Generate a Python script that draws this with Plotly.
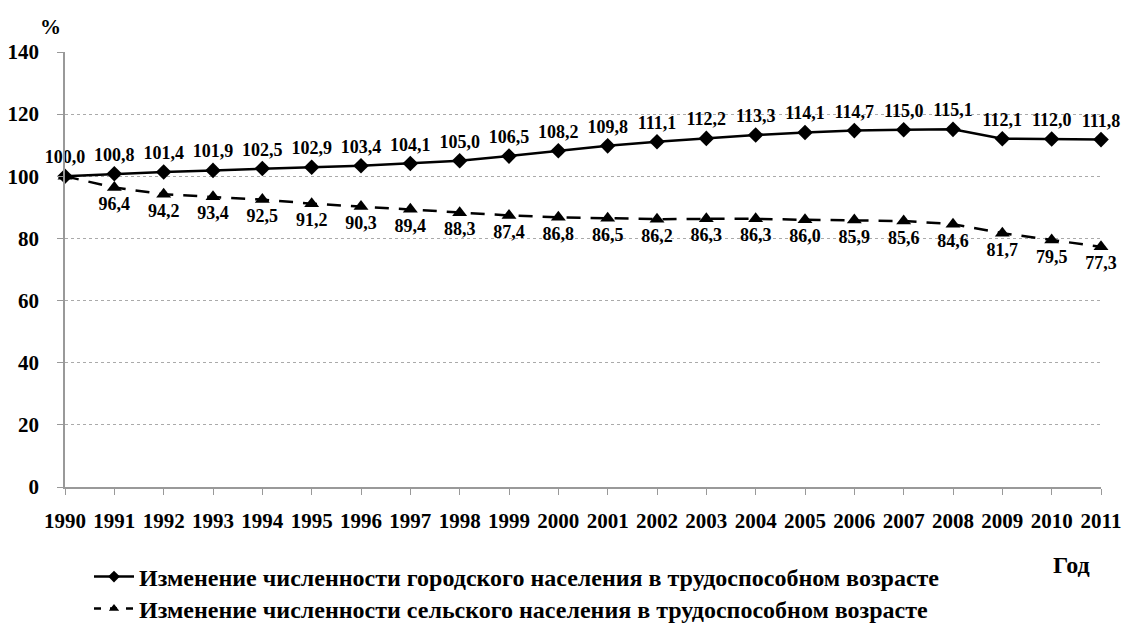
import plotly.graph_objects as go

years = list(range(1990, 2012))
urban = [100.0, 100.8, 101.4, 101.9, 102.5, 102.9, 103.4, 104.1, 105.0, 106.5, 108.2,
         109.8, 111.1, 112.2, 113.3, 114.1, 114.7, 115.0, 115.1, 112.1, 112.0, 111.8]
rural = [100.0, 96.4, 94.2, 93.4, 92.5, 91.2, 90.3, 89.4, 88.3, 87.4, 86.8,
         86.5, 86.2, 86.3, 86.3, 86.0, 85.9, 85.6, 84.6, 81.7, 79.5, 77.3]
yticks = [0, 20, 40, 60, 80, 100, 120, 140]

name_u = "Изменение численности городского населения в трудоспособном возрасте"
name_r = "Изменение численности сельского населения в трудоспособном возрасте"

def fmt(v):
    return f"{v:.1f}".replace(".", ",")

FONT = "'Liberation Serif', 'Times New Roman', 'DejaVu Serif', serif"
W, H = 1128, 624
L, R, T, B = 65, 27, 52, 137
PW, PH = W - L - R, H - T - B

def px(x):
    return (x - L) / PW

def py(y):
    return (H - B - y) / PH

urban_text = [fmt(v) for v in urban]
rural_text = [fmt(v) for v in rural]
rural_text[0] = ""

DASH = "14px,10px"
fig = go.Figure()
fig.add_trace(go.Scatter(
    x=years, y=rural, name=name_r, mode="lines+markers+text",
    line=dict(color="black", width=2.5, dash=DASH),
    marker=dict(symbol="triangle-up", size=13, color="black"),
    text=rural_text, textposition="bottom center",
    textfont=dict(family=FONT, size=18, color="black", weight="bold"),
    showlegend=False, cliponaxis=False,
))
fig.add_trace(go.Scatter(
    x=years, y=urban, name=name_u, mode="lines+markers+text",
    line=dict(color="black", width=2.5),
    marker=dict(symbol="diamond", size=12, color="black"),
    text=urban_text, textposition="top center",
    textfont=dict(family=FONT, size=18, color="black", weight="bold"),
    showlegend=False, cliponaxis=False,
))
# legend entries (smaller legend symbols, as in the reference)
fig.add_trace(go.Scatter(
    x=[None], y=[None], name=name_u, mode="lines+markers",
    line=dict(color="black", width=2.5),
    marker=dict(symbol="diamond", size=9, color="black"),
    legend="legend", hoverinfo="skip",
))
fig.add_trace(go.Scatter(
    x=[None], y=[None], name=name_r, mode="lines+markers",
    line=dict(color="black", width=2.5, dash="7px,9px"),
    marker=dict(symbol="triangle-up", size=9, color="black"),
    legend="legend2", hoverinfo="skip",
))

legfont = dict(family=FONT, size=24, color="black", weight="bold")
fig.update_layout(
    width=W, height=H,
    margin=dict(l=L, r=R, t=T, b=B, autoexpand=False),
    paper_bgcolor="white", plot_bgcolor="white",
    font=dict(family=FONT, color="black"),
    showlegend=True,
    legend=dict(x=px(89), y=py(577), xanchor="left", yanchor="middle", font=legfont,
                bgcolor="rgba(0,0,0,0)", itemwidth=40),
    legend2=dict(x=px(89), y=py(609), xanchor="left", yanchor="middle", font=legfont,
                 bgcolor="rgba(0,0,0,0)", itemwidth=40),
    annotations=[
        dict(text="%", x=px(50), y=py(27), xref="paper", yref="paper",
             xanchor="center", yanchor="middle", showarrow=False,
             font=dict(family=FONT, size=21, color="black", weight="bold")),
        dict(text="Год", x=px(1071), y=py(565), xref="paper", yref="paper",
             xanchor="center", yanchor="middle", showarrow=False,
             font=dict(family=FONT, size=24, color="black", weight="bold")),
    ],
)
fig.update_xaxes(
    range=[1990, 2011], tickvals=years, ticktext=[str(y) for y in years],
    showgrid=False, showline=True, linecolor="#999999", linewidth=1.5,
    ticks="outside", ticklen=6, tickcolor="#999999",
    tickfont=dict(family=FONT, size=21, color="black", weight="bold"),
    ticklabelstandoff=8, zeroline=False, automargin=False,
)
fig.update_yaxes(
    range=[0, 140], tickvals=yticks,
    showgrid=True, gridcolor="#aaaaaa", griddash="dot", gridwidth=1,
    showline=True, linecolor="#999999", linewidth=1.5,
    ticks="outside", ticklen=6, tickcolor="#999999",
    tickfont=dict(family=FONT, size=21, color="black", weight="bold"),
    ticklabelstandoff=14, zeroline=False, automargin=False,
)

fig.write_html("out.html", config={"displayModeBar": False},
               post_script="document.body.style.margin='0';document.body.style.overflow='hidden';")
